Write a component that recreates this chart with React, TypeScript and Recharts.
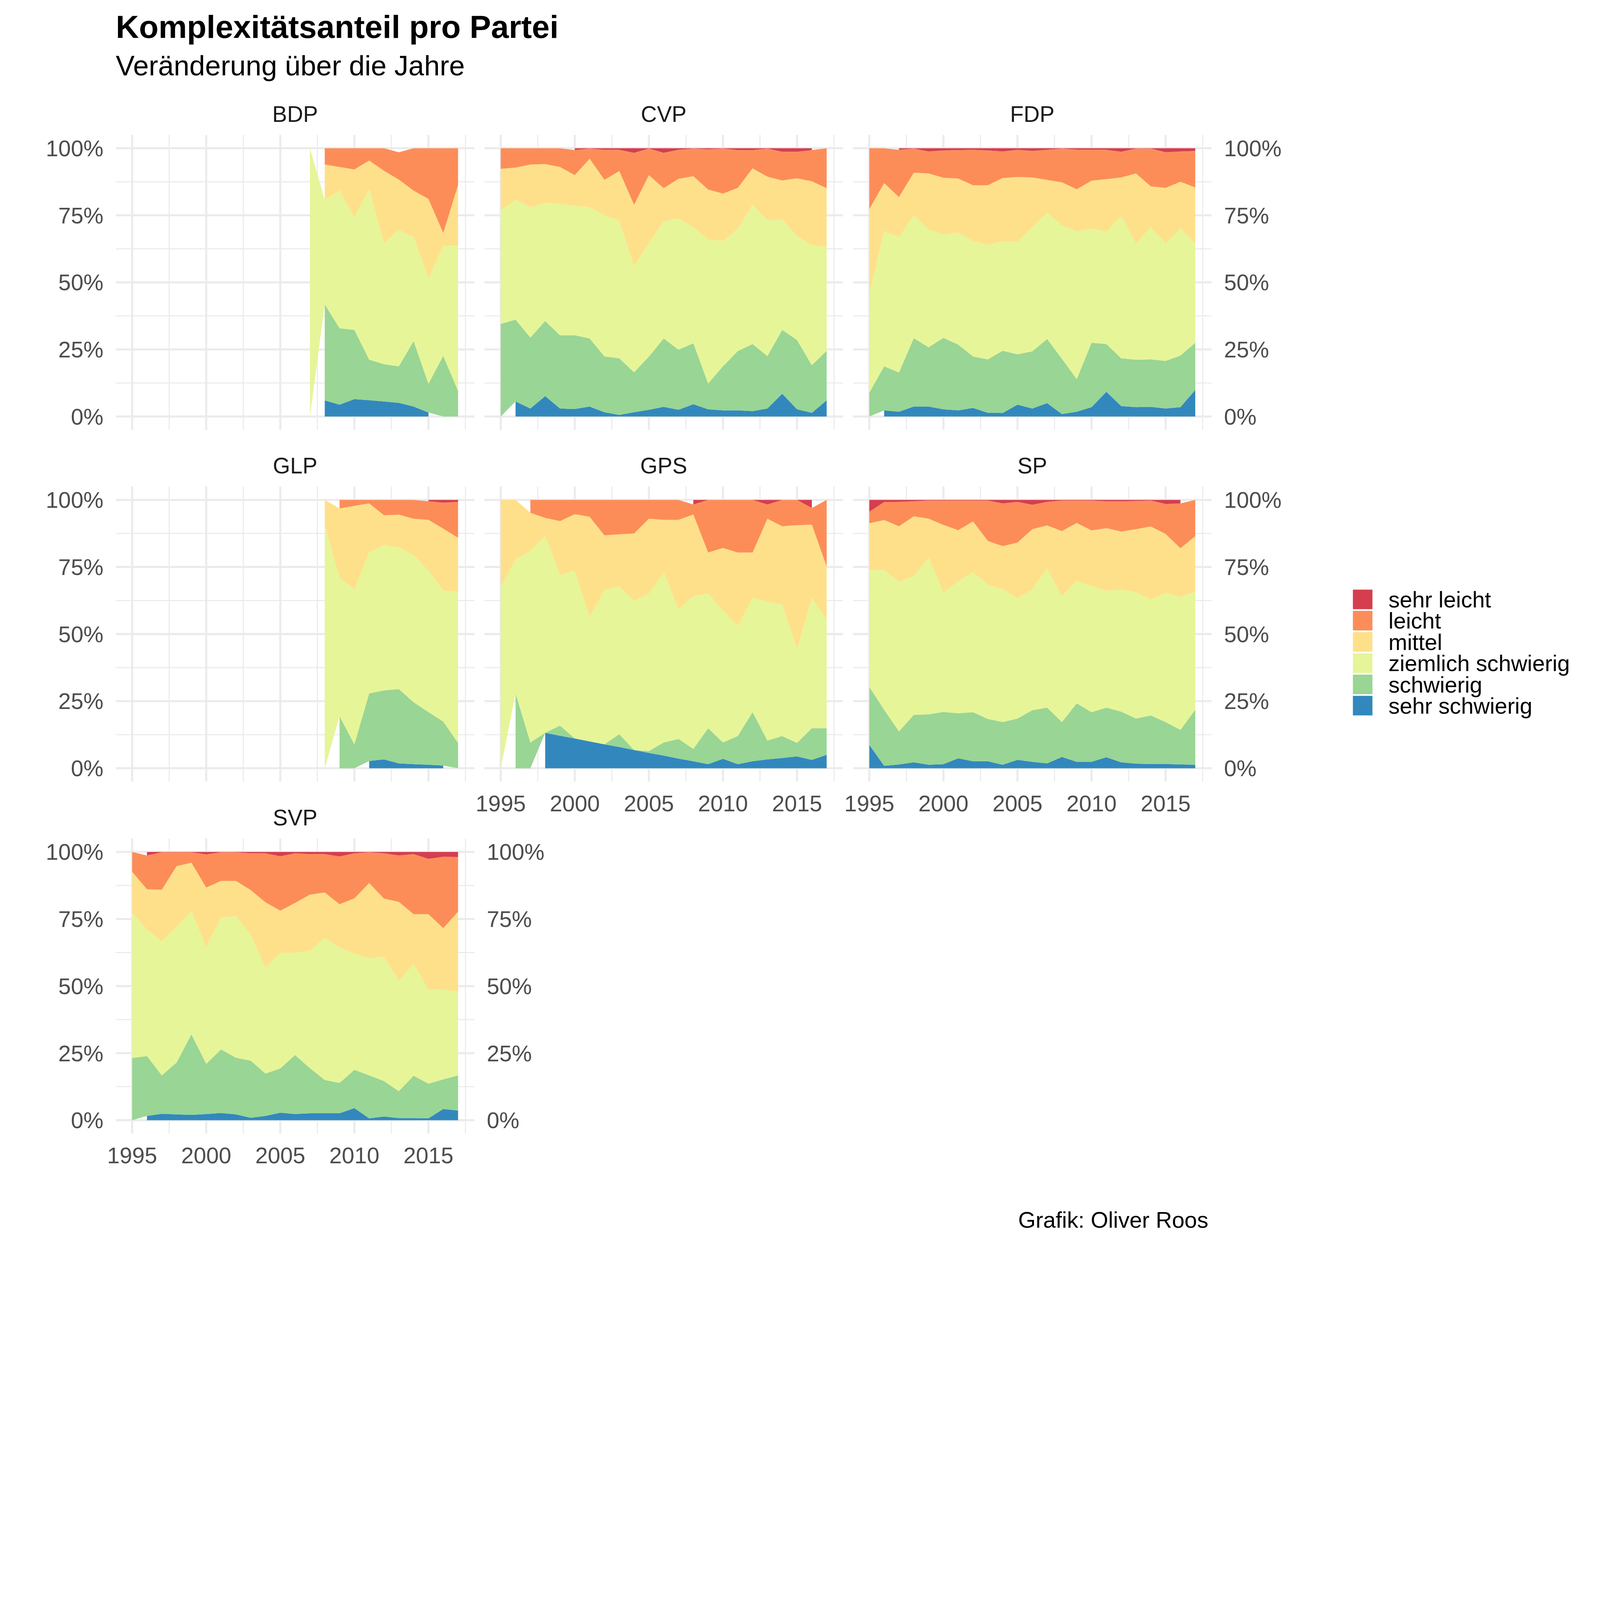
import React from 'react'
import { AreaChart, Area, XAxis, YAxis, CartesianGrid } from 'recharts'

const _ = null

const YEARS = [1995, 1996, 1997, 1998, 1999, 2000, 2001, 2002, 2003, 2004, 2005, 2006, 2007, 2008, 2009, 2010, 2011, 2012, 2013, 2014, 2015, 2016, 2017]

// bottom-up stacking order
const KEYS = ['ss', 's', 'zs', 'm', 'l', 'sl']
const CATEGORIES = ['sehr schwierig', 'schwierig', 'ziemlich schwierig', 'mittel', 'leicht', 'sehr leicht']
const COLORS = ['#3288BD', '#99D594', '#E6F598', '#FEE08B', '#FC8D59', '#D53E4F']

const X_TICKS = [1995, 2000, 2005, 2010, 2015]
const X_MINOR = [1997.5, 2002.5, 2007.5, 2012.5, 2017.5]
const Y_TICKS = [0, 0.25, 0.5, 0.75, 1]
const Y_MINOR = [0.125, 0.375, 0.625, 0.875]

// shares in percent per year, rows in KEYS order
const BDP = [
  [_, _, _, _, _, _, _, _, _, _, _, _, _, 6.0, 4.4, 6.5, 6.1, 5.6, 5.1, 3.7, 1.5, _, _],
  [_, _, _, _, _, _, _, _, _, _, _, _, _, 35.8, 28.5, 25.8, 15.1, 13.9, 13.6, 24.4, 10.7, 22.6, 9.5],
  [_, _, _, _, _, _, _, _, _, _, _, _, 100, 38.9, 51.3, 42.0, 63.5, 45.2, 50.8, 38.7, 39.5, 41.0, 54.1],
  [_, _, _, _, _, _, _, _, _, _, _, _, _, 13.2, 8.8, 17.8, 10.7, 26.9, 18.8, 17.4, 29.4, 4.8, 22.7],
  [_, _, _, _, _, _, _, _, _, _, _, _, _, 6.1, 7.0, 7.9, 4.6, 8.4, 10.2, 15.8, 18.9, 31.6, 13.7],
  [_, _, _, _, _, _, _, _, _, _, _, _, _, _, _, _, _, _, 1.5, _, _, _, _],
]

const CVP = [
  [_, 5.6, 3.0, 7.6, 3.0, 2.8, 3.7, 1.6, 0.6, 1.6, 2.5, 3.6, 2.5, 4.6, 2.7, 2.3, 2.3, 2.0, 3.0, 8.5, 2.7, 1.4, 6.0],
  [34.5, 30.5, 26.4, 28.0, 27.3, 27.5, 25.4, 20.8, 21.1, 14.9, 19.8, 25.5, 22.4, 22.7, 9.6, 16.4, 22.1, 25.0, 19.5, 23.8, 25.8, 17.7, 18.5],
  [42.3, 44.7, 48.5, 44.0, 48.9, 48.2, 48.9, 52.7, 51.2, 39.5, 42.3, 43.6, 48.9, 43.3, 53.6, 46.8, 45.5, 51.9, 50.7, 41.1, 38.8, 44.8, 38.7],
  [15.5, 12.0, 16.0, 14.5, 13.8, 11.5, 18.1, 13.1, 18.6, 22.9, 25.4, 12.4, 14.8, 19.0, 18.7, 17.6, 15.3, 13.6, 16.2, 14.6, 21.5, 23.8, 21.9],
  [7.7, 7.2, 6.1, 5.9, 7.0, 9.3, 3.8, 11.2, 7.9, 19.4, 9.9, 13.2, 10.8, 10.3, 15.0, 16.8, 14.1, 6.8, 10.5, 10.7, 9.9, 11.6, 14.9],
  [_, _, _, _, _, 0.7, 0.1, 0.6, 0.6, 1.7, 0.1, 1.7, 0.6, 0.1, 0.4, 0.1, 0.7, 0.7, 0.1, 1.3, 1.3, 0.7, _],
]

const FDP = [
  [_, 2.3, 1.8, 3.7, 3.7, 2.7, 2.3, 3.2, 1.4, 1.3, 4.4, 3.0, 5.0, 0.9, 1.8, 3.5, 9.2, 3.9, 3.5, 3.6, 3.0, 3.5, 9.9],
  [8.9, 16.4, 14.6, 25.5, 22.1, 26.6, 24.5, 19.2, 19.9, 23.2, 18.8, 21.3, 23.9, 20.6, 12.1, 24.0, 17.8, 17.8, 17.7, 17.7, 17.7, 19.2, 17.6],
  [36.7, 50.5, 50.4, 45.7, 43.9, 38.5, 41.7, 43.1, 42.6, 40.8, 42.0, 46.3, 47.0, 49.8, 55.1, 42.6, 42.0, 53.0, 43.3, 49.3, 43.8, 47.4, 37.0],
  [31.7, 17.8, 15.0, 16.0, 20.9, 21.2, 20.2, 20.7, 22.3, 23.6, 24.1, 18.5, 12.3, 16.0, 15.7, 17.8, 19.5, 14.4, 26.1, 15.2, 20.7, 17.4, 20.9],
  [22.7, 13.0, 17.6, 9.0, 8.2, 10.2, 10.6, 13.2, 13.0, 9.9, 10.1, 9.9, 11.2, 12.6, 14.8, 11.6, 10.9, 9.6, 9.3, 14.1, 13.3, 11.3, 13.6],
  [_, _, 0.6, 0.1, 1.2, 0.8, 0.7, 0.6, 0.8, 1.2, 0.6, 1.0, 0.6, 0.1, 0.5, 0.5, 0.6, 1.3, 0.1, 0.1, 1.5, 1.2, 1.0],
]

const GLP = [
  [_, _, _, _, _, _, _, _, _, _, _, _, _, _, _, _, 2.7, 3.3, 1.8, 1.5, 1.3, 1.0, _],
  [_, _, _, _, _, _, _, _, _, _, _, _, _, _, 19.4, 8.9, 25.2, 25.7, 27.7, 23.1, 19.6, 16.4, 9.4],
  [_, _, _, _, _, _, _, _, _, _, _, _, _, 90.8, 51.5, 57.7, 52.6, 54.2, 52.8, 54.8, 52.8, 48.8, 56.4],
  [_, _, _, _, _, _, _, _, _, _, _, _, _, 9.2, 25.9, 31.2, 18.2, 11.1, 12.2, 13.6, 18.9, 23.1, 20.1],
  [_, _, _, _, _, _, _, _, _, _, _, _, _, _, 3.2, 2.2, 1.3, 5.7, 5.5, 7.0, 6.9, 9.7, 13.4],
  [_, _, _, _, _, _, _, _, _, _, _, _, _, _, _, _, _, _, _, _, 0.5, 1.0, 0.7],
]

const GPS = [
  [_, _, _, 13.2, 12.1, 11.1, 10.0, 8.9, 7.9, 6.8, 5.7, 4.7, 3.6, 2.6, 1.5, 3.5, 1.5, 2.6, 3.3, 3.8, 4.4, 3.1, 5.0],
  [_, 27.9, 9.6, 0, 3.8, 0, 0, 0, 4.8, 0, 0.7, 4.9, 7.3, 4.6, 13.4, 6.1, 10.5, 18.3, 7.0, 8.2, 5.0, 11.8, 9.9],
  [67.5, 49.9, 71.4, 73.3, 56.2, 62.5, 46.4, 57.6, 55.0, 55.7, 58.7, 63.4, 48.4, 56.9, 50.2, 49.2, 41.0, 42.6, 51.8, 49.0, 34.9, 48.6, 40.4],
  [32.5, 22.2, 14.2, 6.8, 20.0, 21.1, 37.3, 20.3, 19.5, 25.0, 27.9, 19.6, 33.3, 30.5, 15.3, 23.3, 27.4, 16.9, 30.9, 29.2, 46.3, 27.3, 19.9],
  [_, _, 4.8, 6.7, 7.9, 5.3, 6.3, 13.2, 12.8, 12.5, 7.0, 7.4, 7.4, 3.7, 19.6, 17.9, 19.6, 19.6, 5.3, 9.8, 9.4, 6.2, 24.8],
  [_, _, _, _, _, _, _, _, _, _, _, _, _, 1.7, 0, _, _, 0, 1.7, 0, 0, 3.0, _],
]

const SP = [
  [8.7, 0.9, 1.4, 2.2, 1.3, 1.5, 3.7, 2.6, 2.6, 1.3, 3.1, 2.4, 1.8, 4.2, 2.4, 2.4, 4.1, 2.2, 1.7, 1.6, 1.6, 1.4, 1.3],
  [21.6, 20.9, 12.3, 17.7, 18.8, 19.5, 16.8, 18.3, 15.8, 15.9, 15.4, 19.2, 20.8, 13.0, 21.8, 18.5, 18.5, 18.9, 16.8, 18.1, 15.6, 12.9, 20.5],
  [43.6, 52.1, 55.8, 51.8, 58.4, 44.6, 49.2, 52.3, 50.0, 49.6, 44.9, 45.1, 51.9, 46.9, 45.7, 47.1, 43.5, 45.5, 47.1, 43.2, 48.3, 49.5, 44.0],
  [17.4, 18.6, 20.7, 22.2, 14.6, 25.2, 19.1, 18.9, 16.4, 16.0, 20.7, 22.4, 16.0, 24.4, 21.6, 20.7, 23.4, 21.6, 23.5, 27.3, 21.8, 18.2, 20.7],
  [4.3, 6.7, 9.1, 5.6, 6.8, 9.1, 11.1, 7.8, 15.1, 15.9, 15.2, 9.1, 8.8, 11.4, 8.4, 11.2, 10.0, 11.3, 10.5, 9.7, 11.2, 16.7, 13.5],
  [4.4, 0.8, 0.7, 0.5, 0.2, 0.2, 0.2, 0.2, 0.2, 1.3, 0.7, 1.8, 0.7, 0.2, 0.2, 0.2, 0.5, 0.5, 0.4, 0.2, 1.5, 1.3, _],
]

const SVP = [
  [_, 1.6, 2.4, 2.2, 2.0, 2.3, 2.7, 2.2, 0.9, 1.6, 2.8, 2.3, 2.6, 2.6, 2.6, 4.5, 0.7, 1.4, 0.8, 0.8, 0.7, 4.2, 3.6],
  [23.2, 22.3, 14.3, 19.3, 30.0, 18.7, 23.7, 21.1, 21.3, 15.8, 16.5, 22.0, 16.8, 12.4, 11.3, 14.3, 16.0, 13.2, 10.0, 15.8, 12.9, 11.0, 13.1],
  [54.1, 47.1, 50.0, 50.6, 45.9, 43.6, 49.1, 52.8, 47.0, 39.5, 43.1, 38.1, 43.8, 52.9, 50.5, 43.3, 43.6, 46.3, 41.2, 41.6, 35.1, 33.5, 31.2],
  [15.3, 15.1, 19.2, 22.6, 18.1, 22.1, 13.7, 13.1, 16.6, 24.3, 15.7, 18.6, 20.9, 17.0, 16.1, 20.6, 28.1, 21.7, 29.4, 18.6, 28.1, 22.9, 29.8],
  [7.4, 12.6, 14.0, 5.2, 3.9, 12.4, 10.7, 10.7, 13.7, 18.3, 20.3, 18.5, 15.1, 14.3, 17.8, 16.8, 11.5, 16.9, 17.3, 22.4, 20.6, 26.6, 20.4],
  [_, 1.3, 0.1, 0.1, 0.1, 0.9, 0.1, 0.1, 0.5, 0.5, 1.6, 0.5, 0.8, 0.8, 1.7, 0.5, 0.1, 0.5, 1.3, 0.8, 2.6, 1.8, 1.9],
]

// layout, in picture pixels
const FONT = "'Liberation Sans', Arial, sans-serif"
const GRID = '#EBEBEB'
const W = 5400
const H = 4200
const PANEL_W = 1210
const PANEL_H = 996
const COL_X = [391, 1635, 2879]
const ROW_Y = [455, 1642, 2830]
const AXIS_W = 300
const AXIS_H = 150
const TICK = { fontSize: 76, fill: '#4D4D4D', fontFamily: FONT }

const PANELS = [
  { name: 'BDP', values: BDP, col: 0, row: 0, left: true, right: false, showX: false },
  { name: 'CVP', values: CVP, col: 1, row: 0, left: false, right: false, showX: false },
  { name: 'FDP', values: FDP, col: 2, row: 0, left: false, right: true, showX: false },
  { name: 'GLP', values: GLP, col: 0, row: 1, left: true, right: false, showX: false },
  { name: 'GPS', values: GPS, col: 1, row: 1, left: false, right: false, showX: true },
  { name: 'SP', values: SP, col: 2, row: 1, left: false, right: true, showX: true },
  { name: 'SVP', values: SVP, col: 0, row: 2, left: true, right: true, showX: true },
]

// normalise each year to a share of 1 (like position = "fill")
function toRows(values: (number | null)[][]) {
  return YEARS.map((year, i) => {
    let sum = 0
    values.forEach((s) => { if (s[i] != null) sum += s[i] as number })
    const row: Record<string, number | null> = { year }
    KEYS.forEach((k, j) => {
      const v = values[j][i]
      row[k] = v == null || sum === 0 ? null : v / sum
    })
    return row
  })
}

const pct = (v: number) => `${Math.round(v * 100)}%`

function Panel({ p }: { p: typeof PANELS[number] }) {
  const L = p.left ? 1 : 0
  const R = p.right ? 1 : 0
  const width = PANEL_W + (L + R) * AXIS_W
  const height = PANEL_H + (p.showX ? AXIS_H : 0)
  const yProps = {
    type: 'number' as const,
    domain: [-0.05, 1.05],
    allowDataOverflow: true,
    ticks: Y_TICKS,
    interval: 0 as const,
    width: AXIS_W,
    axisLine: false,
    tickLine: false,
    tickSize: 0,
    tickMargin: 42,
    tick: TICK,
    tickFormatter: pct,
  }
  return (
    <div style={{ position: 'absolute', left: COL_X[p.col] - L * AXIS_W, top: ROW_Y[p.row], width, height }}>
      <AreaChart width={width} height={height} data={toRows(p.values)} margin={{ top: 0, right: 0, bottom: 0, left: 0 }}>
        <CartesianGrid stroke={GRID} strokeWidth={3.7} verticalValues={X_MINOR} horizontalValues={Y_MINOR} />
        <CartesianGrid stroke={GRID} strokeWidth={7} verticalValues={X_TICKS} horizontalValues={Y_TICKS} />
        <XAxis
          dataKey="year"
          type="number"
          domain={[1993.9, 2018.1]}
          allowDataOverflow
          ticks={X_TICKS}
          interval={0}
          hide={!p.showX}
          height={AXIS_H}
          axisLine={false}
          tickLine={false}
          tickSize={0}
          tickMargin={46}
          tick={TICK}
        />
        <YAxis {...yProps} hide={!p.left && !p.right} orientation={p.left ? 'left' : 'right'} />
        {p.left && p.right && <YAxis {...yProps} yAxisId="r" orientation="right" />}
        {KEYS.map((k, i) => (
          <Area
            key={k}
            dataKey={k}
            name={CATEGORIES[i]}
            type="linear"
            stackId="a"
            stroke="none"
            fill={COLORS[i]}
            fillOpacity={1}
            dot={false}
            activeDot={false}
            isAnimationActive={false}
          />
        ))}
      </AreaChart>
    </div>
  )
}

function pageScale() {
  if (typeof window === 'undefined') return 1
  const vw = window.innerWidth || document.documentElement.clientWidth || W
  const byWidth = vw < W ? vw / W : 1
  const byDpr = 1 / (window.devicePixelRatio || 1)
  return Math.min(byWidth, byDpr)
}

export default function App() {
  // draw in picture pixels, then fit the drawing into the window
  const scale = pageScale()
  const legendOrder = [...KEYS.keys()].reverse()
  return (
    <div style={{ position: 'absolute', left: 0, top: 0, width: W * scale, height: H * scale, overflow: 'hidden', background: '#fff' }}>
      <style>{'.recharts-surface { overflow: visible; } .recharts-wrapper { overflow: visible; }'}</style>
      <div style={{ position: 'absolute', left: 0, top: 0, width: W, height: H, transform: `scale(${scale})`, transformOrigin: '0 0', fontFamily: FONT }}>
        <svg width={W} height={H} style={{ position: 'absolute', left: 0, top: 0 }}>
          <text x={391} y={128} fontSize={108} fontWeight="bold" fill="#000">Komplexitätsanteil pro Partei</text>
          <text x={391} y={255} fontSize={95} fill="#000">Veränderung über die Jahre</text>
          {PANELS.map((p) => (
            <text key={p.name} x={COL_X[p.col] + PANEL_W / 2} y={ROW_Y[p.row] - 44} fontSize={75} fill="#1A1A1A" textAnchor="middle">
              {p.name}
            </text>
          ))}
          {legendOrder.map((i, n) => (
            <g key={KEYS[i]}>
              <rect x={4566} y={1990 + n * 71.7} width={66} height={66} fill={COLORS[i]} />
              <text x={4686} y={1990 + n * 71.7 + 33 + 27} fontSize={76} fill="#000">{CATEGORIES[i]}</text>
            </g>
          ))}
          <text x={4078} y={4143} fontSize={76} fill="#000" textAnchor="end">Grafik: Oliver Roos</text>
        </svg>
        {PANELS.map((p) => (
          <Panel key={p.name} p={p} />
        ))}
      </div>
    </div>
  )
}
